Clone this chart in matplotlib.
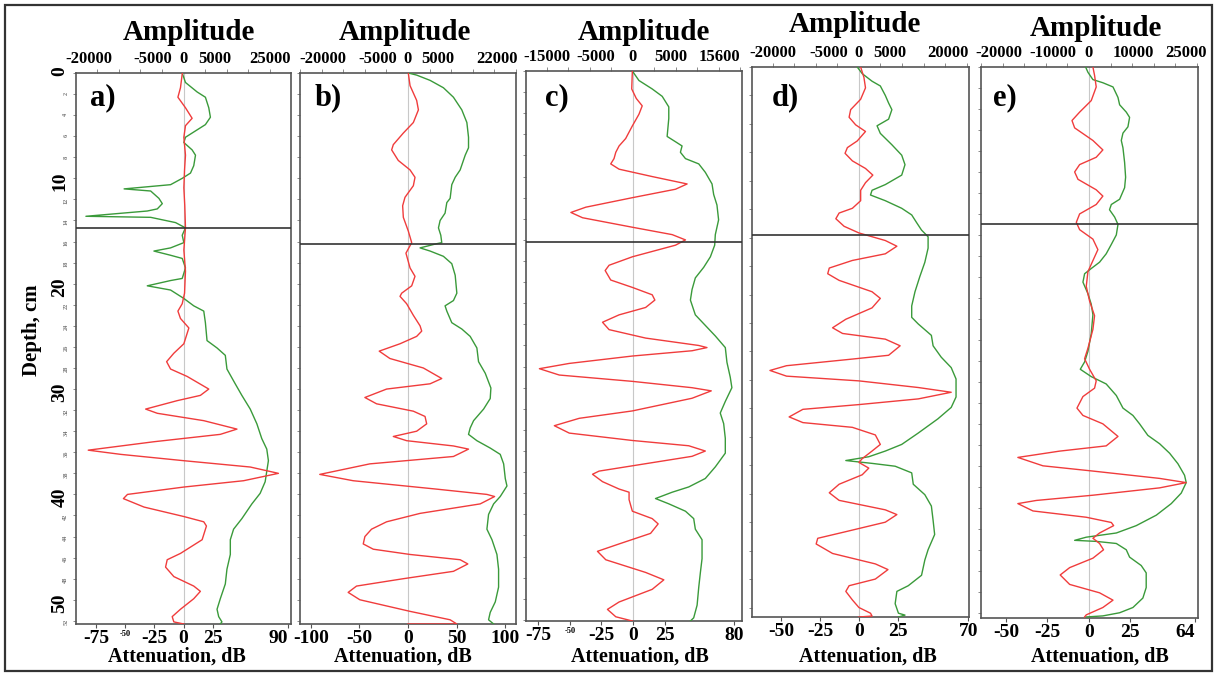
import matplotlib.pyplot as plt
from matplotlib.patches import Rectangle
from matplotlib.ticker import MultipleLocator, NullFormatter, FuncFormatter

plt.rcParams['font.family'] = ['Liberation Serif', 'DejaVu Serif']
plt.rcParams['font.weight'] = 'bold'

W, H = 1217, 676
RED = '#f03c3c'
GREEN = '#3a9a3a'

# ---- data: depth (cm) vs trace value (plotted in each panel's x units) ----
a_red_depth = [0, 1.4, 2.3, 3.3, 4.3, 5.0, 6.1, 7.8, 9.2, 10.9, 12.6, 14.7, 16.8, 18.8, 20.9, 21.9,
               22.6, 23.3, 24.2, 25.7, 26.6, 27.4, 28.1, 28.8, 30.0, 30.6, 31.1, 31.9, 32.3, 33.0,
               33.8, 34.3, 35.0, 35.8, 36.2, 36.8, 37.4, 38.0, 38.7, 39.3, 40.0, 40.4, 41.2, 42.1,
               42.6, 43.0, 44.3, 45.6, 46.2, 46.9, 47.8, 48.7, 49.2, 49.9, 50.9, 51.6, 52.1, 52.3]
a_red = [-1, -2.6, -4.8, 1.7, 7.4, 1.7, 0.3, 1.7, 0.9, 0.3, 1.1, 1.7, 0.3, 1.7, 0.9, -1.1,
         -4.8, -2.6, 4.6, 0.3, -8.3, -14.5, -11.1, 3.1, 21.7, 14.5, -5.4, -32.5, -22.5, 17.4,
         45.9, 31.6, -25.4, -81.8, -53.8, 0.3, 57.3, 81.5, 51.6, 0.3, -48.1, -51.6, -33.9, 0.3,
         17.4, 19.7, 16, -2.6, -14, -15.4, -8.3, 8.8, 14.5, 8.8, -2.6, -9.7, -8.3, 0.3]
a_green_depth = [0, 0.9, 1.8, 2.3, 3.3, 4.2, 4.9, 5.6, 6.1, 6.6, 7.3, 7.8, 8.8, 9.5, 10.0, 10.6,
                 11.0, 11.2, 11.9, 12.4, 12.9, 13.1, 13.6, 13.7, 14.2, 14.7, 15.4, 16.1, 16.6,
                 16.9, 17.3, 17.6, 18.5, 19.5, 19.7, 20.2, 20.6, 21.4, 22.1, 22.6, 23.7, 25.4,
                 26.1, 26.8, 28.1, 29.5, 30.6, 31.9, 33.3, 34.7, 35.7, 36.8, 37.8, 38.8, 39.9,
                 40.9, 42.3, 43.3, 44.3, 45.7, 47.1, 48.5, 49.9, 50.9, 51.6, 52.1, 52.3]
a_green = [-1.1, 1.7, 11.7, 18.8, 21.7, 23.1, 18.8, 8.8, 1.7, 0.3, 7.4, 10.3, 8.8, 6.0, -1.1, -11.1,
           -51, -28.2, -21.1, -18.2, -22.5, -31.1, -83.8, -28.2, -6.8, 1.7, -1.1, 0.3, -11.1,
           -25.4, -11.1, -1.1, 1.7, -1.1, -11.1, -31.1, -11.1, 0.3, 8.8, 17.4, 18.8, 20.2,
           28.8, 35.9, 37.3, 44.4, 50.1, 57.3, 63, 67.2, 71.5, 72.9, 71.5, 70.1, 65.8,
           58.7, 50.1, 43, 40.2, 40.2, 37.3, 35.9, 31.6, 28.8, 30.2, 33, 31.6]

b_red_depth = [0, 1.2, 2.6, 3.5, 4.7, 5.7, 6.8, 7.3, 8.3, 9.2, 9.9, 10.7, 11.8, 12.6, 13.7, 15.0,
               16.1, 17.1, 18.5, 19.3, 20.2, 20.9, 21.2, 21.9, 23.0, 24.0, 24.5, 25.0, 25.7, 26.4,
               27.1, 28.0, 29.0, 29.5, 30.0, 30.8, 31.4, 32.1, 32.6, 33.3, 34.0, 34.5, 34.9, 35.4,
               35.7, 36.4, 37.1, 38.1, 38.7, 39.5, 40.0, 40.2, 40.9, 41.8, 42.6, 43.3, 44.0, 44.7,
               45.2, 45.7, 46.2, 46.6, 47.3, 48.0, 48.7, 49.3, 50.0, 51.1, 51.9, 52.3, 52.3]
b_red = [0.3, 2.1, 8.9, 10.7, 5.5, -4.8, -15.1, -16.8, -10, 2.1, 7.2, 5.5, -3.1, -5.5, -4.8, 0.3,
         3.8, -2.1, 2.1, 7.2, 3.8, -6.5, -8.2, -1.4, 5.5, 12.4, 14.1, 8.9, -8.2, -29.6,
         -18.6, 15.8, 34.7, 22.7, -22, -44.3, -32.3, 5.5, 17.5, 19.2, 8.9, -15.1, -1.4, 46.7,
         62.2, 46.7, -39.2, -90.7, -56.4, 29.6, 81.1, 89, 74.2, 12.4, -22, -37.5, -44.3, -46,
         -35.7, 2.1, 53.6, 61.5, 46.7, -4.8, -52.9, -61.5, -49.5, 2.1, 43.3, 50.2, 0]
b_green_depth = [0, 0.2, 0.7, 1.4, 2.3, 3.5, 4.7, 6.1, 7.1, 7.8, 9.2, 9.9, 10.6, 11.9, 12.3, 13.3,
                 14.0, 14.7, 15.4, 16.1, 16.2, 16.6, 16.9, 17.4, 18.1, 19.2, 20.9, 21.6, 22.1,
                 22.6, 23.7, 24.3, 25.0, 26.1, 27.4, 28.5, 29.9, 30.9, 31.9, 33.0, 33.7, 34.3,
                 34.9, 35.6, 36.2, 37.1, 38.5, 39.2, 40.2, 40.9, 41.9, 43.3, 44.3, 45.7, 47.1,
                 48.8, 50.2, 51.2, 51.9, 52.3]
b_green = [0.3, 8.9, 22.7, 36.4, 46.7, 55.3, 60.5, 62.2, 62.2, 58.8, 53.6, 48.5, 45, 43.3, 39.9, 38.1,
           33, 31.3, 33.7, 34.7, 29.6, 12.4, 22.7, 36.4, 45, 48.5, 50.2, 46.7, 38.1,
           39.9, 45, 55.3, 63.9, 70.8, 72.5, 79.4, 85.2, 84.5, 77.7, 67.4, 63.9, 62.2,
           70.8, 84.5, 94.8, 98.3, 100, 101.7, 94.8, 88, 82.8, 81.1, 86.3, 91.4, 93.1,
           93.1, 89.7, 84.5, 82.8, 88]

c_red_depth = [0, 1.7, 2.6, 3.3, 4.1, 5.2, 6.4, 7.1, 7.7, 8.3, 8.8, 9.3, 10.0, 10.7, 11.2, 12.0,
               12.9, 13.4, 13.9, 14.8, 15.5, 16.0, 16.5, 17.6, 18.4, 18.9, 19.8, 20.5, 21.2, 21.7,
               22.4, 23.1, 23.8, 24.5, 25.3, 26.0, 26.2, 26.5, 27.0, 27.7, 28.2, 28.8, 29.4, 30.0,
               30.3, 31.0, 32.2, 32.9, 33.6, 34.3, 35.0, 35.5, 36.0, 36.5, 37.4, 37.9, 38.2, 38.9,
               39.6, 39.9, 40.6, 41.7, 42.4, 42.9, 43.8, 44.8, 45.5, 46.3, 47.5, 48.2, 49.1, 50.3,
               51.0, 51.7, 52.1]
c_red = [-0.5, -1, 2.6, 7.3, 4.7, -0.5, -5.8, -11, -13.6, -15, -17.6, -11, 15.2, 42.8, 33.6, -0.5,
         -37.3, -49.1, -39.9, -0.5, 31, 41.5, 33.6, -0.5, -18.9, -22, -17.6, -0.5, 15.2, 17.3,
         10, -11, -24.1, -18.9, 10, 52, 58.5, 46.7, -0.5, -50.4, -74, -58.3, -0.5, 46.7,
         61.9, 46.7, -0.5, -42.5, -62.2, -50.4, -0.5, 44.1, 57.2, 46.7, -0.5, -26.8, -32, -24.1,
         -11, -3.1, -3.1, -0.5, 15.2, 19.9, 13.9, -11, -28.1, -21.5, 10, 24.4, 15.2, -11,
         -20.2, -13.6, -0.5]
c_green_depth = [0, 0.9, 1.7, 2.4, 3.4, 4.5, 6.2, 6.7, 7.1, 7.7, 8.3, 8.8, 9.6, 10.7, 11.7, 12.7,
                 14.1, 15.5, 16.5, 17.6, 18.6, 19.6, 20.7, 21.7, 23.1, 24.1, 25.1, 26.2, 27.6,
                 29.0, 30.0, 31.3, 32.4, 33.4, 34.8, 36.2, 37.5, 38.6, 39.4, 39.9, 40.5, 41.0,
                 41.7, 42.4, 43.4, 44.4, 46.2, 47.5, 48.9, 50.6, 51.8, 52.1]
c_green = [-0.5, 4.7, 15.2, 23.1, 28.3, 28.3, 27, 33.6, 38.8, 37.5, 41.5, 52, 57.2, 62.5, 63.8, 66.4,
           67.7, 65.1, 64.6, 61.2, 55.9, 49.3, 46.7, 45.4, 49.3, 57.2, 65.1, 73, 74.3,
           76.9, 78.2, 73, 69, 71.7, 73, 73, 65.1, 57.2, 44.1, 31, 17.8, 28.3,
           41.5, 48, 49.3, 54.6, 54.6, 53.3, 52, 50.7, 48, 45.4]

d_red_depth = [0, 1.1, 2.2, 3.4, 4.5, 5.3, 6.1, 6.8, 7.8, 8.5, 9.1, 9.9, 10.7, 11.4, 12.2, 13.0,
               14.1, 14.9, 15.4, 16.0, 16.8, 17.5, 18.3, 18.9, 19.7, 20.4, 21.2, 21.8, 22.5, 23.7,
               24.4, 25.4, 26.6, 27.5, 28.1, 28.7, 29.4, 30.4, 30.8, 31.5, 32.0, 32.6, 33.1, 33.8,
               34.3, 35.0, 35.6, 36.1, 36.9, 37.5, 38.0, 38.8, 39.8, 40.5, 41.3, 41.7, 42.3, 43.0,
               44.0, 44.9, 45.7, 46.7, 47.2, 48.0, 49.0, 49.7, 50.3, 51.3, 52.4, 53.0, 54.0, 54.7,
               55.3, 56.2, 57.0, 57.6, 57.9, 58.0]
d_red = [1.1, 3.2, 4.2, 1.1, -5.3, -6.3, -2.1, 4.2, -1.1, -7.4, -8.9, -4.2, 4.2, 8.9, 4.2, 1.1,
         1.1, -4.2, -12.7, -14.8, -9.5, 0, 16.9, 24.3, 16.9, -4.2, -19, -20, -12.7, 8.4,
         13.7, 8.4, -8.4, -16.9, -10.5, 16.9, 26.4, 19, -4.2, -46.4, -57, -46.4, 0, 38,
         59.1, 38, 0, -35.9, -44.7, -35.9, -4.2, 10.5, 13.7, 8.4, 2.1, 0, 6.3, 2.1,
         -12.7, -19, -12.7, 16.9, 24.3, 16.9, -8.4, -26.4, -27.4, -16.9, 10.5, 18.6, 10.5, -6.3,
         -8.4, -4.2, 0, 7.4, 8.4, 0]
d_green_depth = [0, 0.7, 1.5, 2.0, 3.0, 3.8, 4.5, 5.5, 6.2, 7.0, 8.2, 9.3, 10.3, 11.4, 12.4, 13.0,
                 13.5, 14.1, 14.9, 15.6, 16.4, 17.2, 17.9, 19.1, 20.6, 22.1, 23.7, 25.2, 26.4,
                 27.1, 28.3, 29.4, 30.6, 31.7, 32.9, 34.8, 35.9, 37.1, 38.6, 39.8, 40.5, 41.1,
                 41.5, 41.8, 42.1, 42.8, 44.0, 45.1, 46.3, 47.8, 49.3, 50.9, 52.0, 53.6, 54.7,
                 55.3, 56.6, 57.6, 57.8, 58.0]
d_green = [-1.1, 2.1, 8.4, 13.7, 16.9, 19, 21.1, 19, 11.6, 13.7, 21.1, 27.4, 29.5, 27.4, 16.9, 8.4,
           7.4, 16.9, 27.4, 33.8, 36.9, 40.1, 44.3, 44.3, 42.2, 39, 35.9, 33.8, 33.8,
           38, 46.4, 47.5, 52.7, 59.1, 62.2, 62.2, 59.1, 50.6, 38, 27.4, 16.9, 6.3,
           -8.4, 8.4, 23.2, 33.8, 34.8, 42.2, 46.4, 47.5, 48.5, 44.3, 42.2, 40.1, 31.6,
           24.3, 23.2, 25.3, 29.5, 25.3]

e_red_depth = [0, 0.8, 1.9, 3.2, 4.3, 5.1, 5.8, 7.0, 7.9, 8.6, 9.3, 10.0, 10.7, 11.7, 12.3, 13.1,
               14.0, 14.8, 15.5, 16.4, 17.4, 18.8, 19.5, 20.9, 22.3, 23.7, 25.0, 26.8, 27.8, 28.8,
               29.9, 30.6, 31.4, 32.5, 33.2, 34.0, 35.2, 36.1, 36.6, 37.2, 38.0, 38.5, 39.2, 39.6,
               40.1, 40.8, 41.3, 41.6, 42.3, 42.9, 43.4, 43.7, 44.4, 44.9, 45.4, 46.0, 46.8, 47.7,
               48.4, 49.3, 50.1, 50.8, 51.5, 52.2, 52.4]
e_red = [2.4, 3.4, 4.4, 1.4, -5.6, -10.2, -8.6, 2.4, 8.4, 4.4, -5.6, -8.6, -6.6, 4.4, 8.4, 4.4,
         -5.6, -7.6, -5.6, 2.4, 5.4, 1.4, -0.6, -1.6, 0.4, 3.4, 2.4, -0.6, -2.6, 0.4,
         4.4, 3.4, -3.6, -7.2, -3.6, 8.4, 17.5, 10.4, -17.7, -42.8, -27.7, 2.4, 42.6, 58.6,
         42.6, 2.4, -31.7, -42.8, -33.7, -1.6, 13.5, 14.9, 6.4, 2.4, 6.4, 8.8, 2.4, -11.6,
         -17.3, -11.6, 6.4, 14.5, 8.4, -1.6, -2.6]
e_green_depth = [0, 0.5, 1.2, 1.5, 1.9, 2.9, 3.6, 4.3, 4.8, 5.7, 6.3, 7.0, 7.7, 9.1, 10.5, 11.5,
                 12.6, 13.1, 13.6, 14.3, 15.0, 16.0, 16.9, 17.8, 18.6, 19.2, 19.7, 20.5, 21.6,
                 22.6, 23.6, 25.4, 27.1, 28.1, 28.8, 29.5, 30.2, 31.3, 32.5, 33.2, 34.0, 35.1,
                 35.9, 36.8, 37.8, 38.9, 39.6, 40.6, 41.6, 42.7, 43.7, 44.4, 44.8, 45.1, 45.2,
                 45.4, 46.0, 46.7, 47.5, 48.2, 49.6, 50.6, 51.5, 52.0, 52.3, 52.4]
e_green = [-2, -0.6, 2.4, 8.4, 14.5, 17.5, 18.5, 22.5, 24.5, 23.5, 20.5, 19.5, 20.5, 21.5, 22.1, 21.5,
           18.5, 13.5, 12.4, 15.5, 17.5, 16.5, 13.5, 10.4, 6.4, 1.4, -2.6, -3.6, -0.6,
           1.4, 2.4, 1.4, -0.6, -2.6, -5.2, 1.4, 10.4, 16.5, 20.5, 26.5, 30.5, 35.5,
           42.6, 48.6, 53.6, 57.6, 58.6, 55.6, 49.6, 40.6, 28.5, 16.5, -1.6, -8.6, 4.4,
           16.5, 22.5, 24.5, 31.5, 34.5, 34.5, 32.5, 26.5, 18.5, 8.4, -1.6]

# boundary depth drawn as horizontal line in each panel
boundary = {'a': 14.7, 'b': 16.2, 'c': 16.2, 'd': 17.7, 'e': 15.0}

# axis tick labels
bottom_ticks = {'a': [-75, -50, -25, 0, 25, 90], 'b': [-100, -50, 0, 50, 100],
                'c': [-75, -50, -25, 0, 25, 80], 'd': [-50, -25, 0, 25, 70],
                'e': [-50, -25, 0, 25, 64]}
top_labels = {'a': ['-20000', '-5000', '0', '5000', '25000'],
              'b': ['-20000', '-5000', '0', '5000', '22000'],
              'c': ['-15000', '-5000', '0', '5000', '15600'],
              'd': ['-20000', '-5000', '0', '5000', '20000'],
              'e': ['-20000', '-10000', '0', '10000', '25000']}
top_label_pos = {'a': [-81.2, -26.5, 0, 26.5, 74.4], 'b': [-87.6, -30.9, 0, 30.9, 91.8],
                 'c': [-67.7, -29.1, 0, 29.9, 68.5], 'd': [-55, -19.6, 0, 19.6, 56.9],
                 'e': [-54.2, -21.7, 0, 26.5, 58.4]}

# layout (pixel boxes: left, top, right, bottom), limits
boxes = {'a': (76, 73, 291, 624), 'b': (300, 73, 516, 624), 'c': (526, 71, 742, 621),
         'd': (752, 67, 969, 617), 'e': (981, 67, 1198, 618)}
xlims = {'a': (-92.3, 92.3), 'b': (-111, 111), 'c': (-84.6, 86.2), 'd': (-68.5, 70.5),
         'e': (-65, 65.7)}
ylims = {'a': 52.3, 'b': 52.3, 'c': 52.1, 'd': 58.0, 'e': 52.5}
ystep = {'a': 2, 'b': 2, 'c': 2, 'd': 3, 'e': 2}
top_minor = {'a': 18.5, 'b': 22.2, 'c': 17, 'd': 13.8, 'e': 13}
title_x = {'a': 189, 'b': 405, 'c': 644, 'd': 855, 'e': 1096}
title_y = {'a': 33, 'b': 32, 'c': 32, 'd': 25, 'e': 28}
xlabel_x = {'a': 177, 'b': 403, 'c': 640, 'd': 868, 'e': 1100}
letter_x = {'a': 90, 'b': 315, 'c': 545, 'd': 772, 'e': 993}

series = {
    'a': (a_red_depth, a_red, a_green_depth, a_green),
    'b': (b_red_depth, b_red, b_green_depth, b_green),
    'c': (c_red_depth, c_red, c_green_depth, c_green),
    'd': (d_red_depth, d_red, d_green_depth, d_green),
    'e': (e_red_depth, e_red, e_green_depth, e_green),
}

fig = plt.figure(figsize=(W / 100, H / 100), dpi=100)
fig.add_artist(Rectangle((5 / W, 5 / H), 1207 / W, 666 / H, transform=fig.transFigure,
                         fill=False, lw=1.6, ec='#333333'))

for key in 'abcde':
    l, t, r, b = boxes[key]
    ax = fig.add_axes([l / W, 1 - b / H, (r - l) / W, (b - t) / H])
    rd, rv, gd, gv = series[key]
    ax.axvline(0, color='#c8c8c8', lw=0.8, zorder=1)
    ax.plot(gv, gd, color=GREEN, lw=1.0, zorder=3)
    ax.plot(rv, rd, color=RED, lw=1.0, zorder=4)
    ax.axhline(boundary[key], color='#333333', lw=1.2, zorder=5)
    ax.set_xlim(*xlims[key])
    ax.set_ylim(ylims[key], 0)
    for s in ax.spines.values():
        s.set_color('#555555')
        s.set_linewidth(1.2)

    ax.set_xticks(bottom_ticks[key], [str(v) for v in bottom_ticks[key]],
                  fontsize=14, fontweight='bold')
    ax.tick_params(axis='x', direction='out', length=3, width=0.8, pad=1, colors='#555555',
                   labelcolor='black')
    for lbl in ax.get_xticklabels():
        if key in ('a', 'c') and lbl.get_text() == '-50':
            lbl.set_fontsize(6)
        if key in ('a', 'e') and lbl.get_text() in ('90', '64'):
            lbl.set_horizontalalignment('right')

    ax.yaxis.set_major_locator(MultipleLocator(10))
    ax.yaxis.set_minor_locator(MultipleLocator(ystep[key]))
    ax.tick_params(axis='y', which='both', direction='out', length=2.5, width=0.6,
                   colors='#777777')
    if key == 'a':
        ax.yaxis.set_major_formatter(FuncFormatter(lambda v, p: f'{v:.0f}'))
        ax.yaxis.set_minor_formatter(
            FuncFormatter(lambda v, p: '' if v % 10 == 0 else f'{v:.0f}'))
        ax.tick_params(axis='y', which='major', labelsize=14, labelrotation=90,
                       labelcolor='black', pad=3)
        ax.tick_params(axis='y', which='minor', labelsize=4.5, labelrotation=90,
                       labelcolor='#777777', pad=3)
        for lbl in ax.get_yticklabels():
            lbl.set_fontweight('bold')
    else:
        ax.yaxis.set_major_formatter(NullFormatter())
        ax.yaxis.set_minor_formatter(NullFormatter())
        if key == 'd':
            ax.yaxis.set_major_locator(MultipleLocator(3))

    top = ax.secondary_xaxis('top')
    top.set_xticks(top_label_pos[key], top_labels[key], fontsize=12, fontweight='bold')
    top.xaxis.set_minor_locator(MultipleLocator(top_minor[key]))
    top.tick_params(axis='x', which='major', length=0, pad=4)
    top.tick_params(axis='x', which='minor', length=3, width=0.6, colors='#777777')
    top.spines['top'].set_visible(False)

    fig.text(letter_x[key] / W, 1 - 98 / H, f'{key})', fontsize=22, fontweight='bold',
             ha='left', va='center')
    fig.text(title_x[key] / W, 1 - title_y[key] / H, 'Amplitude', fontsize=21,
             fontweight='bold', ha='center', va='center')
    fig.text(xlabel_x[key] / W, 1 - 657 / H, 'Attenuation, dB', fontsize=14.5,
             fontweight='bold', ha='center', va='center')

fig.text(32 / W, 1 - 330 / H, 'Depth, cm', fontsize=15, fontweight='bold', rotation=90,
         ha='center', va='center')

fig.savefig('out.png', dpi=100)
